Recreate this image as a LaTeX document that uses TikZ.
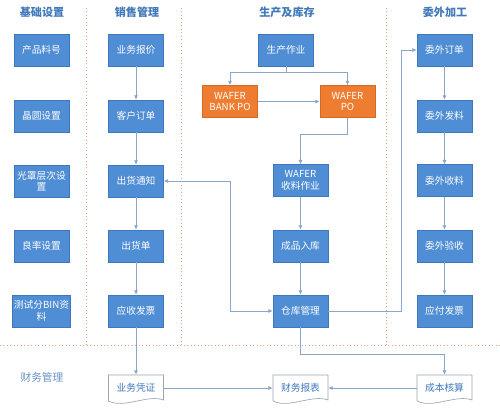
\documentclass[tikz,border=0pt]{standalone}
\usepackage{fontspec}
\setmainfont{Noto Sans CJK SC}
\usetikzlibrary{arrows.meta}
\definecolor{bx}{HTML}{4F8DD4}
\definecolor{bxd}{HTML}{3F78BC}
\definecolor{og}{HTML}{EF7D31}
\definecolor{ogd}{HTML}{D9691F}
\definecolor{ln}{HTML}{8AA6C8}
\definecolor{hd}{HTML}{4179BA}
\definecolor{dv}{HTML}{E3A27A}
\definecolor{dc}{HTML}{9AA6B4}
\tikzset{
  bbox/.style={draw=bxd, line width=0.4pt, fill=bx, text=white, minimum width=41.25pt, minimum height=24pt, inner sep=1pt, align=center, font=\fontsize{7.3}{8.6}\selectfont},
  obox/.style={bbox, draw=ogd, fill=og},
  hdr/.style={text=hd, font=\fontsize{8.3}{10}\selectfont\bfseries},
  docn/.style={minimum width=41.25pt, minimum height=19.5pt, inner sep=0pt, text=bxd, font=\fontsize{7.3}{8.6}\selectfont},
  docline/.style={draw=dc, line width=0.5pt, fill=white},
  arr/.style={draw=ln, line width=0.55pt, -{Latex[length=3.2pt,width=3pt]}},
  arrb/.style={draw=ln, line width=0.55pt, {Latex[length=3.2pt,width=3pt]}-{Latex[length=3.2pt,width=3pt]}},
  divl/.style={draw=dv, line width=0.6pt, dotted},
}
\newcommand\mydoc[3]{%
  \draw[docline] (#1-27.5,#2-13) -- (#1+27.5,#2-13) -- (#1+27.5,#2+12)
    .. controls (#1+12,#2+6) and (#1-12,#2+21) .. (#1-27.5,#2+13) -- cycle;
  \node[docn] (#3) at (#1,#2) {};
}
\begin{document}
\begin{tikzpicture}[x=0.75pt,y=-0.75pt]
\useasboundingbox (0,0) rectangle (500,409);
\fill[white] (0,0) rectangle (500,409);
% dividers
\draw[divl] (86,8) -- (86,345);
\draw[divl] (181,8) -- (181,345);
\draw[divl] (386,8) -- (386,345);
\draw[divl] (0,345) -- (500,345);
% headers
\node[hdr] (h1) at (42,12) {基础设置};
\node[hdr] (h2) at (137,12) {销售管理};
\node[hdr] (h3) at (287,12) {生产及库存};
\node[hdr] (h4) at (445,12) {委外加工};
\node[hdr, font=\fontsize{8}{10}\selectfont, text=hd!80] (h5) at (42,377) {财务管理};
% column 1
\node[bbox] (a1) at (41.5,50) {产品料号};
\node[bbox] (a2) at (41.5,116) {晶圆设置};
\node[bbox] (a3) at (41.5,181) {光罩层次设\\置};
\node[bbox] (a4) at (41.5,246) {良率设置};
\node[bbox] (a5) at (41.5,311) {测试分BIN资\\料};
% column 2
\node[bbox] (bj) at (136,50) {业务报价};
\node[bbox] (kd) at (136,116) {客户订单};
\node[bbox] (ch) at (136,181) {出货通知};
\node[bbox] (cd) at (136,246) {出货单};
\node[bbox] (sk) at (136,311) {应收发票};
% column 3
\node[bbox] (sc) at (286,50) {生产作业};
\node[obox] (wbp) at (230,101.5) {WAFER\\BANK PO};
\node[obox] (wp) at (347.5,101.5) {WAFER\\PO};
\node[bbox] (wsl) at (300.5,180.5) {WAFER\\收料作业};
\node[bbox] (cr) at (300.5,246) {成品入库};
\node[bbox] (ck) at (300.5,311) {仓库管理};
% column 4
\node[bbox] (wd) at (444.5,50) {委外订单};
\node[bbox] (wf) at (444.5,116) {委外发料};
\node[bbox] (ws) at (444.5,180.5) {委外收料};
\node[bbox] (wy) at (444.5,246) {委外验收};
\node[bbox] (yf) at (444.5,311) {应付发票};
% documents
\mydoc{136}{388}{yw}
\mydoc{300.5}{388}{bb}
\mydoc{444.5}{388}{cb}
\node[docn] at (yw) {业务凭证};
\node[docn] at (bb) {财务报表};
\node[docn] at (cb) {成本核算};
\coordinate (t1) at (230,0);
\coordinate (t2) at (401,0);
% connectors column 2
\draw[arr] (bj) -- (kd);
\draw[arr] (kd) -- (ch);
\draw[arr] (ch) -- (cd);
\draw[arr] (cd) -- (sk);
\draw[arr] (sk) -- (yw);
% column 3
\draw[arr] (sc.south) -- ++(0,6) -| (wbp.north);
\draw[arr] (sc.south) -- ++(0,6) -| (wp.north);
\draw[arr] (wbp) -- (wp);
\draw[arr] (wp.south) -- ++(0,17) -| (wsl.north);
\draw[arr] (wsl) -- (cr);
\draw[arr] (cr) -- (ck);
\draw[arrb] (ch.east) -- (ch.east -| t1) |- (ck.west);
\draw[arr] (ck.east) -- (ck.east -| t2) |- (wd.west);
\draw[arr] (ck.south) -- ++(0,27) -| (cb.north);
% column 4
\draw[arr] (wd) -- (wf);
\draw[arr] (wf) -- (ws);
\draw[arr] (ws) -- (wy);
\draw[arr] (wy) -- (yf);
% finance
\draw[arr] (yw) -- (bb);
\draw[arr] (cb) -- (bb);
\end{tikzpicture}
\end{document}
